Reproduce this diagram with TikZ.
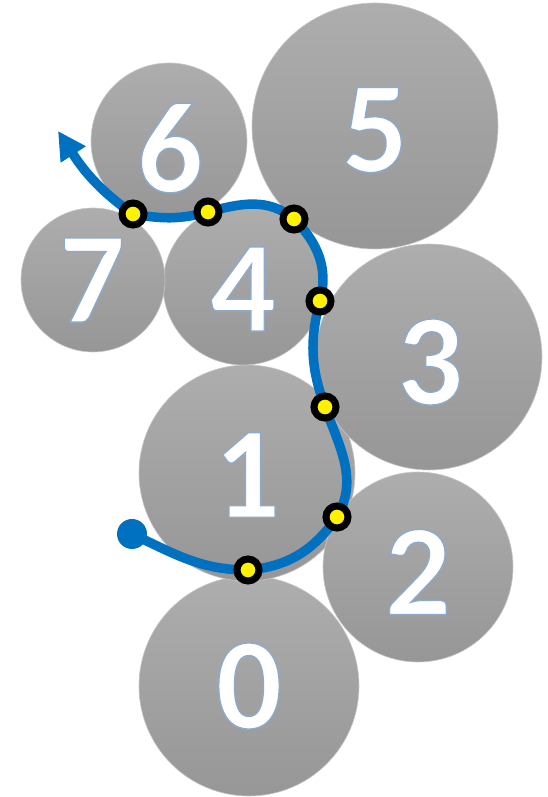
\documentclass[tikz,border=0pt]{standalone}
\usepackage{fontspec}
\setmainfont{Carlito}
\usepackage{tikz}
\usetikzlibrary{arrows.meta}
\definecolor{pathblue}{HTML}{0070C0}
\definecolor{rimblue}{HTML}{8EAACB}
% white digits with a thin blue rim
\newcommand{\rimdigit}[1]{\special{pdf:literal direct 2 Tr 1.4 w 0.557 0.667 0.796 RG}#1\special{pdf:literal direct 0 Tr}}

\begin{document}
\begin{tikzpicture}[x=1pt,y=1pt,
  ball/.style={circle,inner sep=0pt,top color=black!32,bottom color=black!41,draw=black!22,line width=0.6pt},
  digit/.style={inner sep=0pt,text=white,font=\fontsize{130}{130}\selectfont\bfseries},
  hopdot/.style={circle,inner sep=0pt,minimum size=22pt,fill=yellow,draw=black,line width=7pt}]
\useasboundingbox (0,0) rectangle (548,797);

% the balls
\node[ball,minimum size=220pt] (c0) at (249,111) {};
\node[ball,minimum size=216pt] (c1) at (247,324) {};
\node[ball,minimum size=190pt] (c2) at (418,230) {};
\node[ball,minimum size=226pt] (c3) at (429,440) {};
\node[ball,minimum size=160pt] (c4) at (243,512) {};
\node[ball,minimum size=246pt] (c5) at (375,671) {};
\node[ball,minimum size=156pt] (c6) at (169,656) {};
\node[ball,minimum size=144pt] (c7) at (93,517) {};

\node[digit] (n0) at (249,111) {\rimdigit{0}};
\node[digit] (n1) at (247,322) {\rimdigit{1}};
\node[digit] (n2) at (418,225) {\rimdigit{2}};
\node[digit] (n3) at (430,435) {\rimdigit{3}};
\node[digit] (n4) at (243,508) {\rimdigit{4}};
\node[digit] (n5) at (375,667) {\rimdigit{5}};
\node[digit] (n6) at (170,649) {\rimdigit{6}};
\node[digit] (n7) at (92,517) {\rimdigit{7}};

% the path
\coordinate (start) at (132,263);
\coordinate (p1) at (248,227);
\coordinate (p2) at (337,280);
\coordinate (p3) at (325,390);
\coordinate (p4) at (320,496);
\coordinate (p5) at (294,578);
\coordinate (p6) at (208,585);
\coordinate (p7) at (133,583);
\coordinate (tip) at (58,666);

\fill[pathblue] (start) circle (15pt);
\draw[pathblue,line width=9.5pt,-{Triangle[length=28pt,width=28pt]}]
  (start) to[out=-25,in=180] (p1) to[out=5,in=235] (p2)
  to[out=60,in=290] (p3) to[out=110,in=255] (p4)
  to[out=75,in=315] (p5) to[out=140,in=15] (p6)
  to[out=195,in=-10] (p7) to[out=145,in=-57] (tip);

\foreach \i in {1,...,7}
  \node[hopdot] (h\i) at (p\i) {};
\end{tikzpicture}
\end{document}
